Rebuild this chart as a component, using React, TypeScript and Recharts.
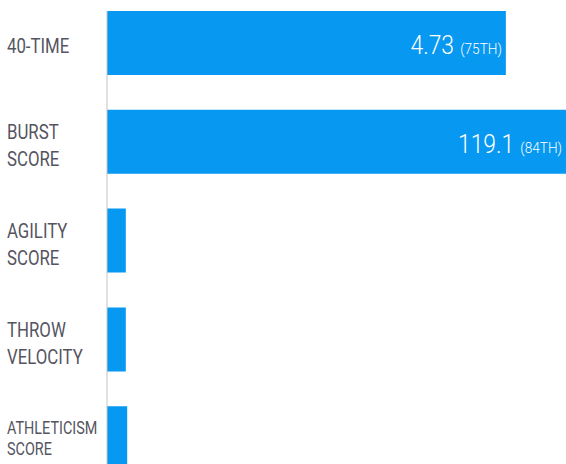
import React from "react";
import { BarChart, Bar, XAxis, YAxis, LabelList } from "recharts";

// combine measurements, one row per drill
const categories = ["40-TIME", "BURST SCORE", "AGILITY SCORE", "THROW VELOCITY", "ATHLETICISM SCORE"];
const scores = [86.9, 100, 4.1, 4.1, 4.4];
const results = ["4.73", "119.1", "", "", ""];
const percentiles = ["75TH", "84TH", "", "", ""];

const data = categories.map((name, i) => ({
  name,
  score: scores[i],
  result: results[i],
  pct: percentiles[i],
}));

const FONT = "Roboto, 'Noto Sans', sans-serif";
const BLUE = "#0798F2";

// the original face is a narrow one, so squeeze Roboto horizontally
function CategoryTick({ y, payload }: any) {
  const words: string[] = String(payload.value).split(" ");
  const small = words.some((w) => w.length > 8);
  const size = small ? 18 : 21;
  const lineH = small ? 21 : 27;
  const first = words.length === 1 ? 10 : small ? -5 : -3;
  return (
    <g transform={`translate(7,${y}) scale(0.8,1)`}>
      <text x={0} y={0} fill="#55555f" fontFamily={FONT} fontSize={size} textAnchor="start">
        {words.map((w, i) => (
          <tspan key={i} x={0} y={first + i * lineH}>
            {w}
          </tspan>
        ))}
      </text>
    </g>
  );
}

function ValueLabel(props: any) {
  const { x, y, width, height, index } = props;
  const row = data[index];
  if (!row || !row.result) return null;
  return (
    <g transform={`translate(${x + width - 4},${y + height / 2 + 11}) scale(0.88,1)`}>
      <text x={0} y={0} fill="#fff" fontFamily={FONT} fontWeight={300} textAnchor="end">
        <tspan fontSize={26}>{row.result}</tspan>
        <tspan fontSize={15.5} dx={7}>({row.pct})</tspan>
      </text>
    </g>
  );
}

export default function App() {
  return (
    <div
      style={{
        position: "fixed",
        top: 0,
        left: 0,
        width: 566,
        height: 464,
        overflow: "hidden",
        background: "#fff",
      }}
    >
      <BarChart
        width={566}
        height={488}
        data={data}
        layout="vertical"
        margin={{ top: 11, right: 0, bottom: 0, left: 0 }}
      >
        <XAxis type="number" domain={[0, 100]} hide />
        <YAxis
          type="category"
          dataKey="name"
          width={107}
          axisLine={{ stroke: "#c4c4c4" }}
          tickLine={false}
          tick={<CategoryTick />}
          padding={{ top: -17, bottom: 0 }}
          interval={0}
        />
        <Bar dataKey="score" fill={BLUE} barSize={64} isAnimationActive={false}>
          <LabelList dataKey="score" content={<ValueLabel />} />
        </Bar>
      </BarChart>
    </div>
  );
}
